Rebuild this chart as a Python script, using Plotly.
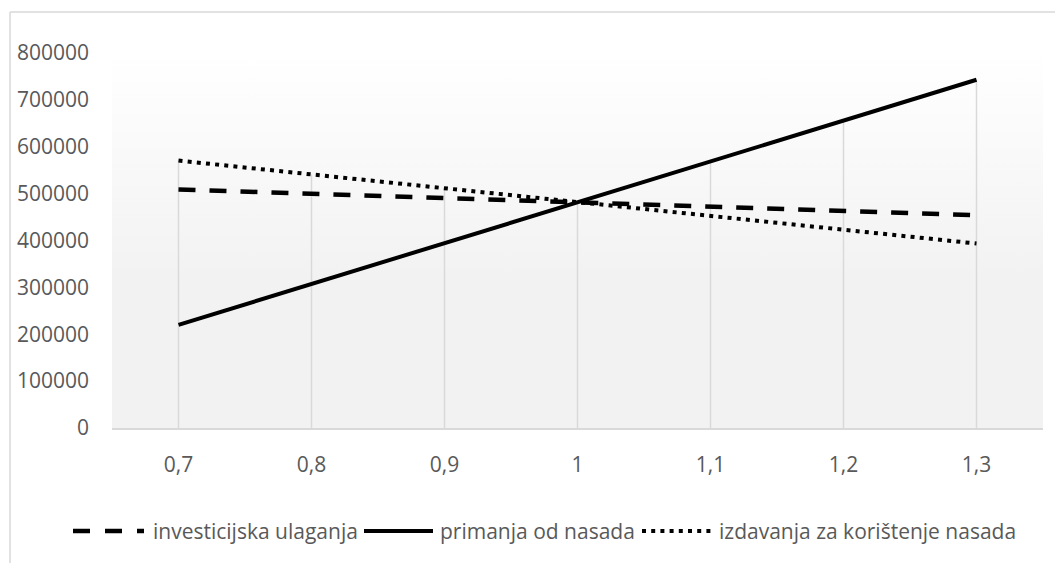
import base64
import plotly.graph_objects as go

# ---- data ----
categories = ["0,7", "0,8", "0,9", "1", "1,1", "1,2", "1,3"]
investicijska = [509000, 500000, 491000, 482000, 472500, 463000, 454000]
primanja = [220000, 307000, 395000, 482500, 570000, 657000, 743000]
izdavanja = [570500, 541000, 511500, 482000, 452500, 423000, 393500]
y_ticks = [0, 100000, 200000, 300000, 400000, 500000, 600000, 700000, 800000]
names = ["investicijska ulaganja", "primanja od nasada", "izdavanja za korištenje nasada"]

W, H = 1055, 563
L, R, T, B = 112, 1043, 53, 428  # plot area in pixels


def px_x(p):
    return (p - L) / (R - L)


def px_y(p):
    return (B - p) / (B - T)


TXT = "#595959"
GRID = "#d9d9d9"
FONT = "Open Sans"
FS = 21

fig = go.Figure()

# drop lines from the highest point of each category to the axis
drop_x, drop_y = [], []
for i, c in enumerate(categories):
    top = max(investicijska[i], primanja[i], izdavanja[i])
    drop_x += [c, c, None]
    drop_y += [0, top, None]
fig.add_trace(go.Scatter(x=drop_x, y=drop_y, mode="lines",
                         line=dict(color=GRID, width=1.5),
                         hoverinfo="skip", showlegend=False))

fig.add_trace(go.Scatter(x=categories, y=investicijska, mode="lines", name=names[0],
                         line=dict(color="black", width=4.5, dash="17px,14px"),
                         showlegend=False))
fig.add_trace(go.Scatter(x=categories, y=primanja, mode="lines", name=names[1],
                         line=dict(color="black", width=4), showlegend=False))
fig.add_trace(go.Scatter(x=categories, y=izdavanja, mode="lines", name=names[2],
                         line=dict(color="black", width=4, dash="4px,5.2px"),
                         showlegend=False))

# gradient plot-area background
svg = ('<svg xmlns="http://www.w3.org/2000/svg" width="100" height="100" preserveAspectRatio="none">'
       '<defs><linearGradient id="g" x1="0" y1="0" x2="0" y2="1">'
       '<stop offset="0" stop-color="#ffffff"/><stop offset="0.6" stop-color="#f2f2f2"/>'
       '<stop offset="1" stop-color="#f2f2f2"/></linearGradient></defs>'
       '<rect width="100" height="100" fill="url(#g)"/></svg>')
src = "data:image/svg+xml;base64," + base64.b64encode(svg.encode()).decode()
fig.add_layout_image(dict(source=src, xref="paper", yref="paper", x=0, y=1,
                          sizex=1, sizey=1, sizing="stretch", layer="below",
                          xanchor="left", yanchor="top"))

shapes = [
    # chart border (top and left)
    dict(type="line", xref="paper", yref="paper", x0=px_x(10), x1=px_x(1060),
         y0=px_y(12), y1=px_y(12), line=dict(color=GRID, width=1.5)),
    dict(type="line", xref="paper", yref="paper", x0=px_x(10), x1=px_x(10),
         y0=px_y(12), y1=px_y(570), line=dict(color=GRID, width=1.5)),
]
# custom legend
ly = px_y(531)
leg = [
    (73, 144, dict(color="black", width=4.5, dash="17px,15px"), 151, names[0]),
    (364, 433, dict(color="black", width=4), 438, names[1]),
    (642, 712, dict(color="black", width=4, dash="4px,5.2px"), 717, names[2]),
]
annotations = []
for x0, x1, ln, tx, name in leg:
    shapes.append(dict(type="line", xref="paper", yref="paper", x0=px_x(x0), x1=px_x(x1),
                       y0=ly, y1=ly, line=ln))
    annotations.append(dict(text=name, xref="paper", yref="paper", x=px_x(tx), y=ly,
                            xanchor="left", yanchor="middle", showarrow=False,
                            font=dict(family=FONT, size=FS, color=TXT)))

fig.update_layout(
    width=W, height=H,
    margin=dict(l=L, r=W - R, t=T, b=H - B),
    paper_bgcolor="white", plot_bgcolor="rgba(0,0,0,0)",
    showlegend=False,
    shapes=shapes, annotations=annotations,
    font=dict(family=FONT, size=FS, color=TXT),
)
fig.update_xaxes(type="category", range=[-0.5, 6.5], showgrid=False,
                 showline=True, linecolor=GRID, linewidth=1.5,
                 ticks="", ticklabelstandoff=17, zeroline=False,
                 tickfont=dict(family=FONT, size=FS, color=TXT))
fig.update_yaxes(range=[0, 800000], tickvals=y_ticks, tickformat="d",
                 showgrid=False, showline=False, zeroline=False, ticks="",
                 ticklabelstandoff=22,
                 tickfont=dict(family=FONT, size=FS, color=TXT))

fig.write_html("out.html",
               config={"displayModeBar": False},
               post_script="document.body.style.margin='0';document.body.style.overflow='hidden';")
